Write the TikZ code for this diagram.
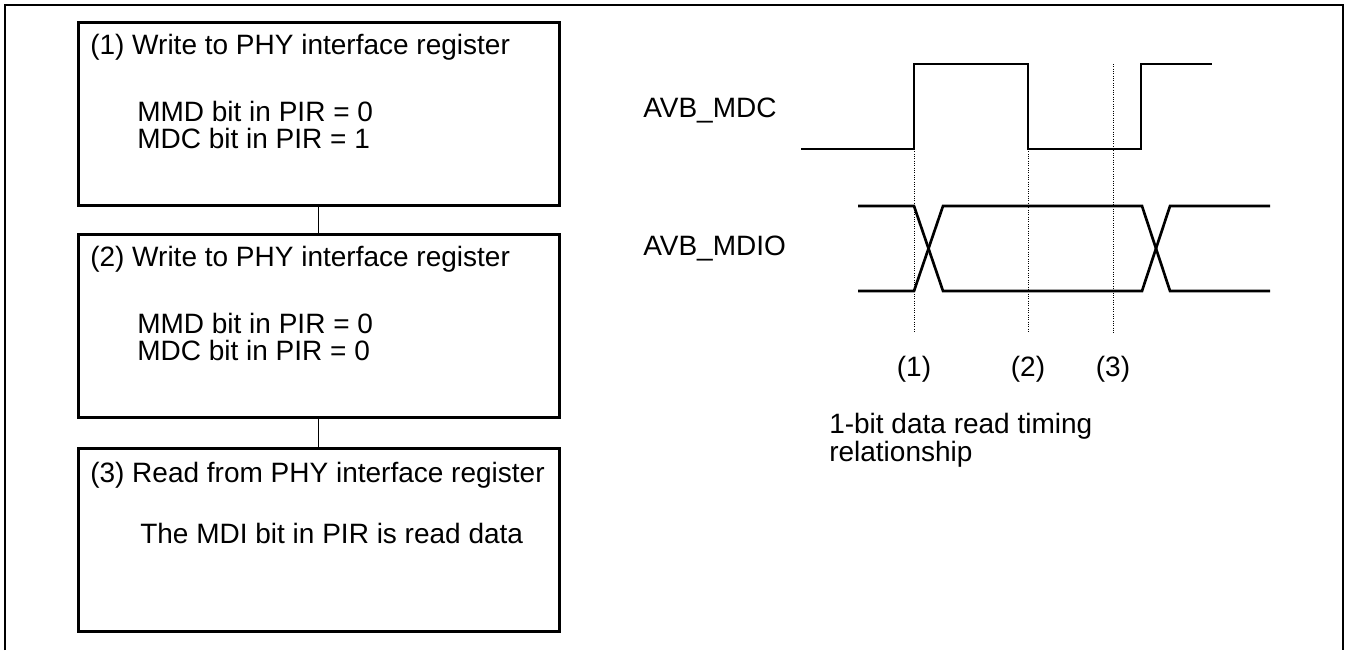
\documentclass[tikz,border=0pt]{standalone}
\usepackage{fontspec}
\setmainfont{Liberation Sans}

\tikzset{
  regbox/.style={draw, line width=2.25pt, minimum width=360.75pt, minimum height=137.25pt, inner sep=0pt},
  txt/.style={anchor=base west, inner sep=0pt},
  wave/.style={line width=2pt},
  tick/.style={line width=0.75pt, densely dotted},
}

\begin{document}
\begin{tikzpicture}[x=0.75pt, y=-0.75pt, font=\fontsize{21}{21}\selectfont]
  \useasboundingbox (0,0) rectangle (1346,650);
  % frame, open at the bottom
  \draw[line width=1.6pt] (5,650) -- (5,5) -- (1343,5) -- (1343,650);

  % register access steps
  \node[regbox] (s1) at (318.5,113.5) {};
  \node[regbox] (s2) at (318.5,325.5) {};
  \node[regbox] (s3) at (318.5,539.5) {};
  \draw[line width=1.2pt] (s1.south) -- (s2.north);
  \draw[line width=1.2pt] (s2.south) -- (s3.north);

  \node[txt] (s1t) at (90,54) {(1) Write to PHY interface register};
  \node[txt] (s1a) at (137,121) {MMD bit in PIR = 0};
  \node[txt] (s1b) at (137,148) {MDC bit in PIR = 1};
  \node[txt] (s2t) at (90,266) {(2) Write to PHY interface register};
  \node[txt] (s2a) at (137,333) {MMD bit in PIR = 0};
  \node[txt] (s2b) at (137,360) {MDC bit in PIR = 0};
  \node[txt] (s3t) at (90,482) {(3) Read from PHY interface register};
  \node[txt] (s3a) at (140,543) {The MDI bit in PIR is read data};

  % timing
  \node[txt] (mdc) at (643,117) {AVB\_MDC};
  \node[txt] (mdio) at (643,255) {AVB\_MDIO};

  \draw[wave] (801,149) -- (914,149) -- (914,64) -- (1028,64) -- (1028,149) -- (1141,149) -- (1141,64) -- (1212,64);
  \draw[wave] (858,206) -- (914,206) -- (943,291) -- (1142,291) -- (1170,206) -- (1270,206);
  \draw[wave] (858,291) -- (914,291) -- (943,206) -- (1142,206) -- (1170,291) -- (1270,291);

  \foreach \x/\y/\n in {914/149/1, 1028/149/2, 1113/64/3} {
    \draw[tick] (\x,\y) -- (\x,333);
    \node[anchor=base, inner sep=0pt] (p\n) at (\x,376) {(\n)};
  }

  \node[txt] (cap1) at (829,433) {1-bit data read timing};
  \node[txt] (cap2) at (829,461) {relationship};
\end{tikzpicture}
\end{document}
